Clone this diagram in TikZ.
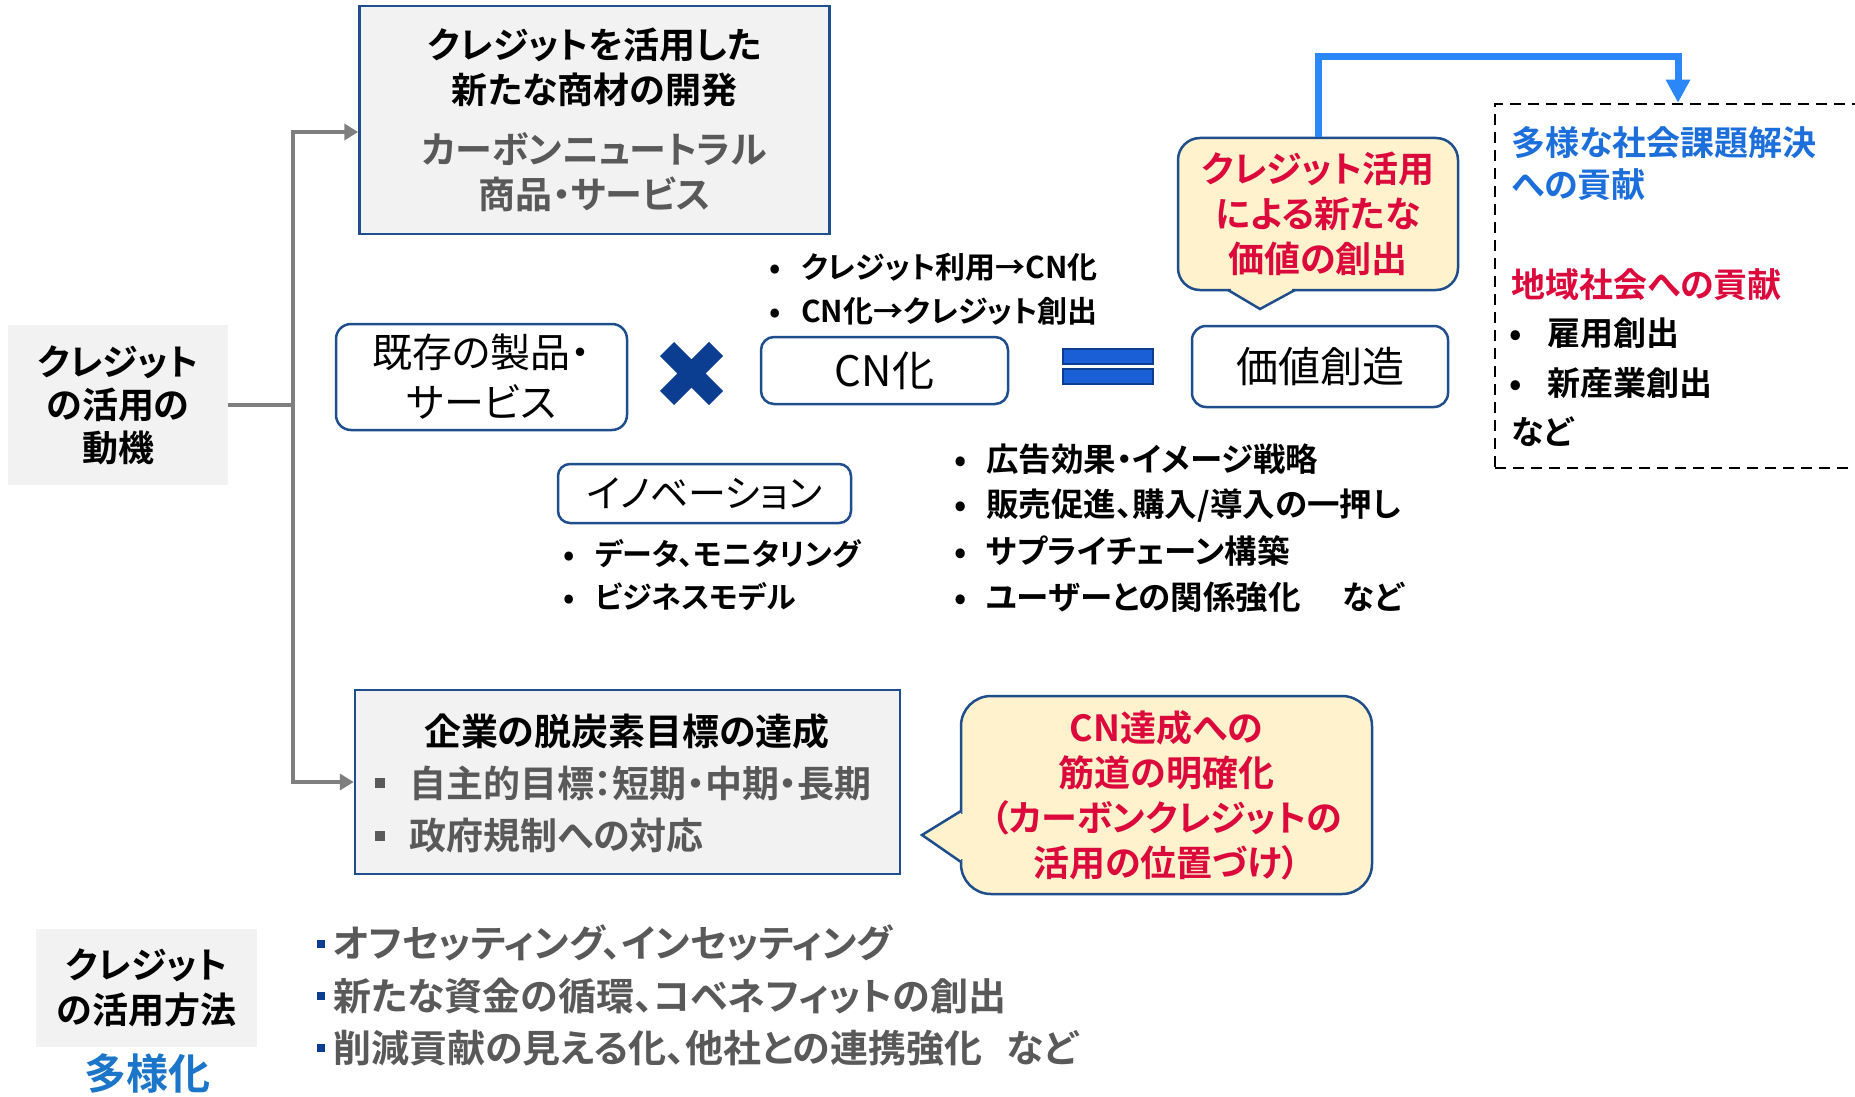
\documentclass[tikz,border=0pt]{standalone}
\usepackage{fontspec}
\setmainfont{Noto Sans CJK JP}[BoldFont={Noto Sans CJK JP Bold},RawFeature={+palt}]
\usetikzlibrary{arrows.meta}
\definecolor{bblue}{HTML}{1F4E8C}
\definecolor{lgray}{HTML}{F2F2F2}
\definecolor{dgray}{HTML}{595959}
\definecolor{cgray}{HTML}{7F7F7F}
\definecolor{cyel}{HTML}{FFF2CC}
\definecolor{cred}{HTML}{DC0A3C}
\definecolor{tblue}{HTML}{1C6FDA}
\definecolor{tbluetwo}{HTML}{1B75C9}
\definecolor{arrblue}{HTML}{2B86F8}
\definecolor{xblue}{HTML}{0B3D91}
\definecolor{eqblue}{HTML}{1A5FD6}
\newcommand\fs[2]{\fontsize{#1}{#2}\selectfont}
\newcommand\bul[2][32pt]{\makebox[#1][l]{•}#2}
\newcommand\gsq{\makebox[34pt][l]{\color{dgray}\rule[9pt]{10pt}{10pt}}}
\newcommand\bsq{\makebox[16pt][l]{\color{xblue}\rule[10pt]{8pt}{8pt}}}
\tikzset{
  every node/.style={inner sep=0pt},
  rbox/.style={draw=bblue, line width=2.5pt, rounded corners=14pt, fill=white, align=center},
  sbox/.style={draw=bblue, line width=2.5pt, fill=lgray, align=center},
  gbox/.style={fill=lgray, align=center},
  callout/.style={draw=bblue, line width=2.5pt, fill=cyel, align=center, text=cred, font=\bfseries\fs{36}{45}},
  conn/.style={draw=cgray, line width=4pt},
  lbl/.style={anchor=west, inner sep=0pt},
  tip/.style={-{Triangle[length=14pt,width=16pt]}}
}
\begin{document}
\begin{tikzpicture}[x=1pt,y=-1pt]
\useasboundingbox (0,0) rectangle (1855,1097);
\fill[white] (0,0) rectangle (1855,1097);

% motive box
\node[gbox, minimum width=220pt, minimum height=160pt, font=\bfseries\fs{36}{43}] (motive) at (118,405) {クレジット\\の活用の\\動機};

% top box
\node[sbox, minimum width=470pt, minimum height=228pt, font=\bfseries\fs{36}{45}] (topbox) at (594.5,120) {クレジットを活用した\\新たな商材の開発\\[15pt]\textcolor{dgray}{\fs{37}{45}カーボンニュートラル}\\\textcolor{dgray}{\fs{37}{45}商品・サービス}};

% existing products
\node[rbox, rounded corners=15pt, minimum width=291pt, minimum height=106pt, font=\fs{40}{50}] (kizon) at (481.5,377) {既存の製品・\\サービス};

% multiplication sign
\draw[xblue, line width=20pt] (667,349) -- (716,398) (716,349) -- (667,398);

% CN box
\node[rbox, rounded corners=13pt, minimum width=247pt, minimum height=67pt, font=\fs{42}{50}] (cn) at (884.5,370.5) {CN化};
\node[lbl, font=\bfseries\fs{30}{36}] (u1) at (769,267) {\bul{クレジット利用→CN化}};
\node[lbl, font=\bfseries\fs{30}{36}] (u2) at (769,311) {\bul{CN化→クレジット創出}};

% equals sign
\filldraw[fill=eqblue, draw=xblue, line width=1.5pt] (1063,349) rectangle (1153,364) (1063,369) rectangle (1153,384);

% value box
\node[rbox, rounded corners=14pt, minimum width=256pt, minimum height=81pt, font=\fs{42}{50}] (value) at (1320,366.5) {価値創造};

% callout 1
\node[callout, rounded corners=22pt, minimum width=280pt, minimum height=152pt] (c1) at (1318,214) {クレジット活用\\による新たな\\価値の創出};
\fill[cyel] (1231,287) rectangle (1292,293);
\fill[cyel] (1228,290) -- (1260,309) -- (1295,290) -- cycle;
\draw[bblue, line width=2.5pt] (1228,290) -- (1260,309) -- (1295,290);

% dashed box
\node[draw=black, dash pattern=on 11pt off 7pt, line width=2.5pt, minimum width=380pt, minimum height=364pt] (dbox) at (1685,286) {};
\node[lbl, font=\bfseries\fs{34}{40}, text=tblue] (s1) at (1511,143) {多様な社会課題解決};
\node[lbl, font=\bfseries\fs{34}{40}, text=tblue] (s2) at (1511,185) {への貢献};
\node[lbl, font=\bfseries\fs{34}{40}, text=cred] (s3) at (1511,285) {地域社会への貢献};
\node[lbl, font=\bfseries\fs{33}{40}] (s4) at (1509,333) {\bul[38pt]{雇用創出}};
\node[lbl, font=\bfseries\fs{33}{40}] (s5) at (1509,383) {\bul[38pt]{新産業創出}};
\node[lbl, font=\bfseries\fs{33}{40}] (s6) at (1511,432) {など};

% blue arrow
\coordinate (ab) at (1678,57);
\draw[arrblue, line width=7pt, -{Triangle[length=23pt,width=23pt]}] (c1.north) |- (ab) -- (ab |- dbox.north);

% innovation
\node[rbox, rounded corners=12pt, minimum width=293pt, minimum height=59pt, font=\fs{38}{46}] (inno) at (704.5,493.5) {イノベーション};
\node[lbl, font=\bfseries\fs{30}{36}] (i1) at (563,554) {\bul{データ、モニタリング}};
\node[lbl, font=\bfseries\fs{30}{36}] (i2) at (563,597) {\bul{ビジネスモデル}};

% right bullets
\node[lbl, font=\bfseries\fs{32.5}{36}] (r1) at (954,459) {\bul{広告効果・イメージ戦略}};
\node[lbl, font=\bfseries\fs{32.5}{36}] (r2) at (954,506) {\bul{販売促進、購入/導入の一押し}};
\node[lbl, font=\bfseries\fs{32.5}{36}] (r3) at (954,551) {\bul{サプライチェーン構築}};
\node[lbl, font=\bfseries\fs{32.5}{36}] (r4) at (954,597) {\bul{ユーザーとの関係強化\hspace{42pt}など}};

% goal box
\node[sbox, minimum width=545pt, minimum height=184pt] (goal) at (627.5,782) {};
\node[font=\bfseries\fs{37}{44}] (g0) at (627,731) {企業の脱炭素目標の達成};
\node[lbl, font=\bfseries\fs{37}{44}, text=dgray] (g1) at (375,783) {\gsq 自主的目標：短期・中期・長期};
\node[lbl, font=\bfseries\fs{37}{44}, text=dgray] (g2) at (375,836) {\gsq 政府規制への対応};

% callout 2
\node[callout, rounded corners=30pt, minimum width=411pt, minimum height=198pt] (c2) at (1166.5,795) {CN達成への\\筋道の明確化\\（カーボンクレジットの\\活用の位置づけ）};
\fill[cyel] (958,814) rectangle (964,859);
\fill[cyel] (961,811) -- (922,835) -- (961,862) -- cycle;
\draw[bblue, line width=2.5pt] (961,811) -- (922,835) -- (961,862);

% method box
\node[gbox, minimum width=221pt, minimum height=118pt, font=\bfseries\fs{36}{45}] (method) at (146.5,988) {クレジット\\の活用方法};
\node[font=\bfseries\fs{42}{50}, text=tbluetwo] (div) at (147,1074) {多様化};

% bottom bullets
\node[lbl, font=\bfseries\fs{38}{42}, text=dgray] (m1) at (317,943) {\bsq オフセッティング、インセッティング};
\node[lbl, font=\bfseries\fs{38}{42}, text=dgray] (m2) at (317,996) {\bsq 新たな資金の循環、コベネフィットの創出};
\node[lbl, font=\bfseries\fs{38}{42}, text=dgray] (m3) at (317,1048) {\bsq 削減貢献の見える化、他社との連携強化\hspace{24pt}など};

% connectors
\coordinate (j) at (293,405);
\draw[conn] (motive.east) -- (j);
\draw[conn, tip] (j) |- ([yshift=-12pt]topbox.west);
\draw[conn, tip] (j) |- (goal.west);
\end{tikzpicture}
\end{document}
